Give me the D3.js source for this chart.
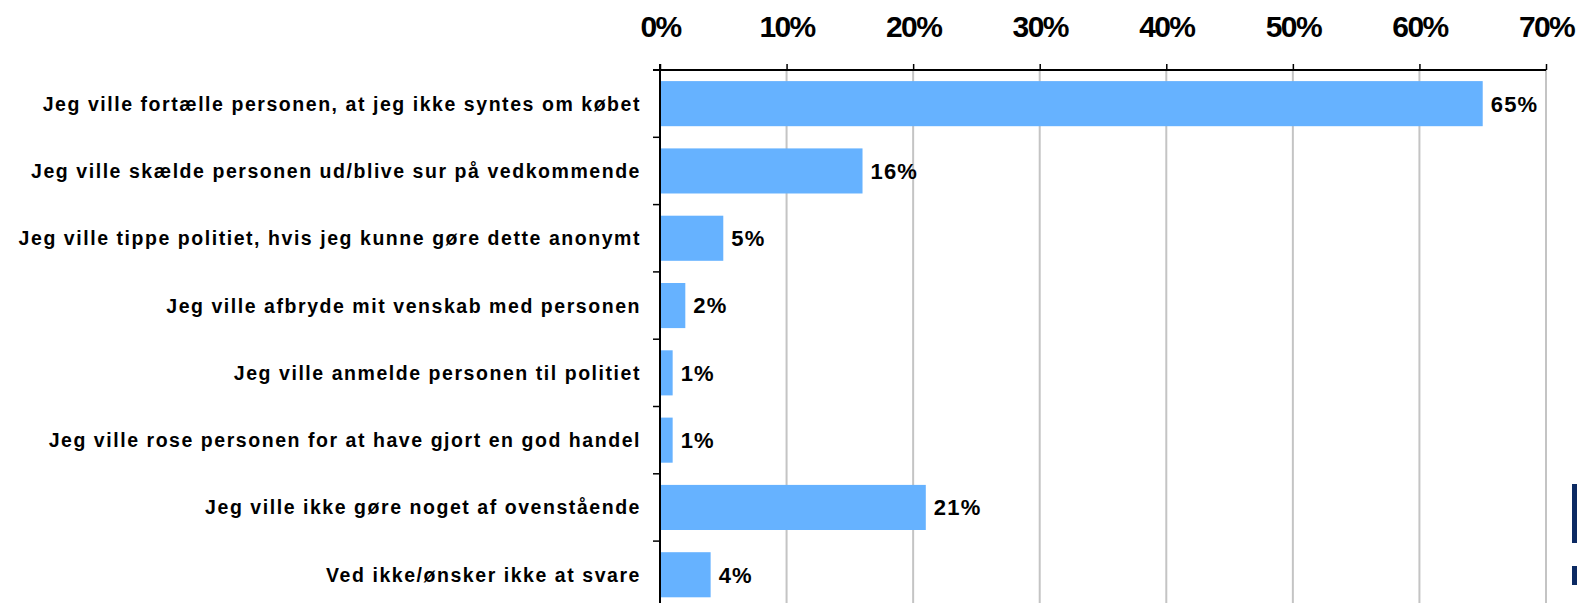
<!DOCTYPE html>
<html>
<head>
<meta charset="utf-8">
<script src="https://cdn.jsdelivr.net/npm/d3@7"></script>
<style>
  body { margin: 0; background: #fff; }
  svg { display: block; }
</style>
</head>
<body>
<div id="chart"></div>
<script>
// answers and shares (%)
var categories = [
  "Jeg ville fortælle personen, at jeg ikke syntes om købet",
  "Jeg ville skælde personen ud/blive sur på vedkommende",
  "Jeg ville tippe politiet, hvis jeg kunne gøre dette anonymt",
  "Jeg ville afbryde mit venskab med personen",
  "Jeg ville anmelde personen til politiet",
  "Jeg ville rose personen for at have gjort en god handel",
  "Jeg ville ikke gøre noget af ovenstående",
  "Ved ikke/ønsker ikke at svare"
];
var values = [65, 16, 5, 2, 1, 1, 21, 4];
var tickValues = [0, 10, 20, 30, 40, 50, 60, 70];

var width = 1577, height = 603;
var margin = {top: 70, left: 660, right: 31};

var svg = d3.select("#chart").append("svg")
  .attr("width", width)
  .attr("height", height);

// scales
var x = d3.scaleLinear()
  .domain([0, 70])
  .range([margin.left, width - margin.right]);

var y = d3.scaleBand()
  .domain(categories)
  .range([margin.top, margin.top + 67.3 * categories.length])
  .paddingInner(0.33)
  .paddingOuter(0.165);

// gridlines
svg.append("g")
  .selectAll("line")
  .data(tickValues.slice(1))
  .enter().append("line")
    .attr("x1", function(d) { return x(d); })
    .attr("x2", function(d) { return x(d); })
    .attr("y1", margin.top)
    .attr("y2", height)
    .style("stroke", "#c4c4c4")
    .style("stroke-width", 2);

// bars
svg.append("g")
  .selectAll("rect")
  .data(values)
  .enter().append("rect")
    .attr("x", x(0))
    .attr("y", function(d, i) { return y(categories[i]); })
    .attr("width", function(d) { return x(d) - x(0); })
    .attr("height", y.bandwidth())
    .style("fill", "#66b2ff");

// top axis
var xAxis = d3.axisTop(x)
  .tickValues(tickValues)
  .tickFormat(function(d) { return d + "%"; })
  .tickSize(6)
  .tickSizeOuter(0)
  .tickPadding(10);

var gx = svg.append("g")
  .attr("transform", "translate(0," + margin.top + ")")
  .call(xAxis);
gx.select(".domain")
  .attr("d", "M" + (x(0) - 7) + ",0H" + x(70))
  .style("stroke", "#000")
  .style("stroke-width", 2);
gx.selectAll(".tick line").style("stroke", "#000").style("stroke-width", 1.5);
gx.selectAll(".tick text")
  .attr("y", -33)
  .style("font-family", "'Liberation Sans', Arial, sans-serif")
  .style("font-weight", "bold")
  .style("font-size", "30px")
  .style("letter-spacing", "-1.6px")
  .style("fill", "#000");

// left axis line + category ticks between bands
var yStep = y.step();
var boundaries = d3.range(categories.length + 1).map(function(i) { return margin.top + i * yStep; });

svg.append("line")
  .attr("x1", x(0)).attr("x2", x(0))
  .attr("y1", margin.top - 6).attr("y2", height)
  .style("stroke", "#000")
  .style("stroke-width", 2);

svg.append("g")
  .selectAll("line")
  .data(boundaries.slice(1))
  .enter().append("line")
    .attr("x1", x(0) - 7)
    .attr("x2", x(0))
    .attr("y1", function(d) { return d; })
    .attr("y2", function(d) { return d; })
    .style("stroke", "#000")
    .style("stroke-width", 1.5);

// category labels
svg.append("g")
  .selectAll("text")
  .data(categories)
  .enter().append("text")
    .attr("x", x(0) - 19)
    .attr("y", function(d) { return y(d) + y.bandwidth() / 2; })
    .attr("dy", "0.36em")
    .attr("text-anchor", "end")
    .style("font-family", "'Liberation Sans', Arial, sans-serif")
    .style("font-weight", "bold")
    .style("font-size", "19.5px")
    .style("letter-spacing", "1.55px")
    .text(function(d) { return d; });

// value labels
svg.append("g")
  .selectAll("text")
  .data(values)
  .enter().append("text")
    .attr("x", function(d) { return x(d) + 8; })
    .attr("y", function(d, i) { return y(categories[i]) + y.bandwidth() / 2; })
    .attr("dy", "0.36em")
    .style("font-family", "'Liberation Sans', Arial, sans-serif")
    .style("font-weight", "bold")
    .style("font-size", "22px")
    .style("letter-spacing", "1.2px")
    .text(function(d) { return d + "%"; });

// logo fragment at right edge
svg.append("rect").attr("x", 1572).attr("y", 484).attr("width", 6).attr("height", 59).style("fill", "#0c2a63");
svg.append("rect").attr("x", 1572).attr("y", 566).attr("width", 6).attr("height", 19).style("fill", "#0c2a63");
</script>
</body>
</html>
